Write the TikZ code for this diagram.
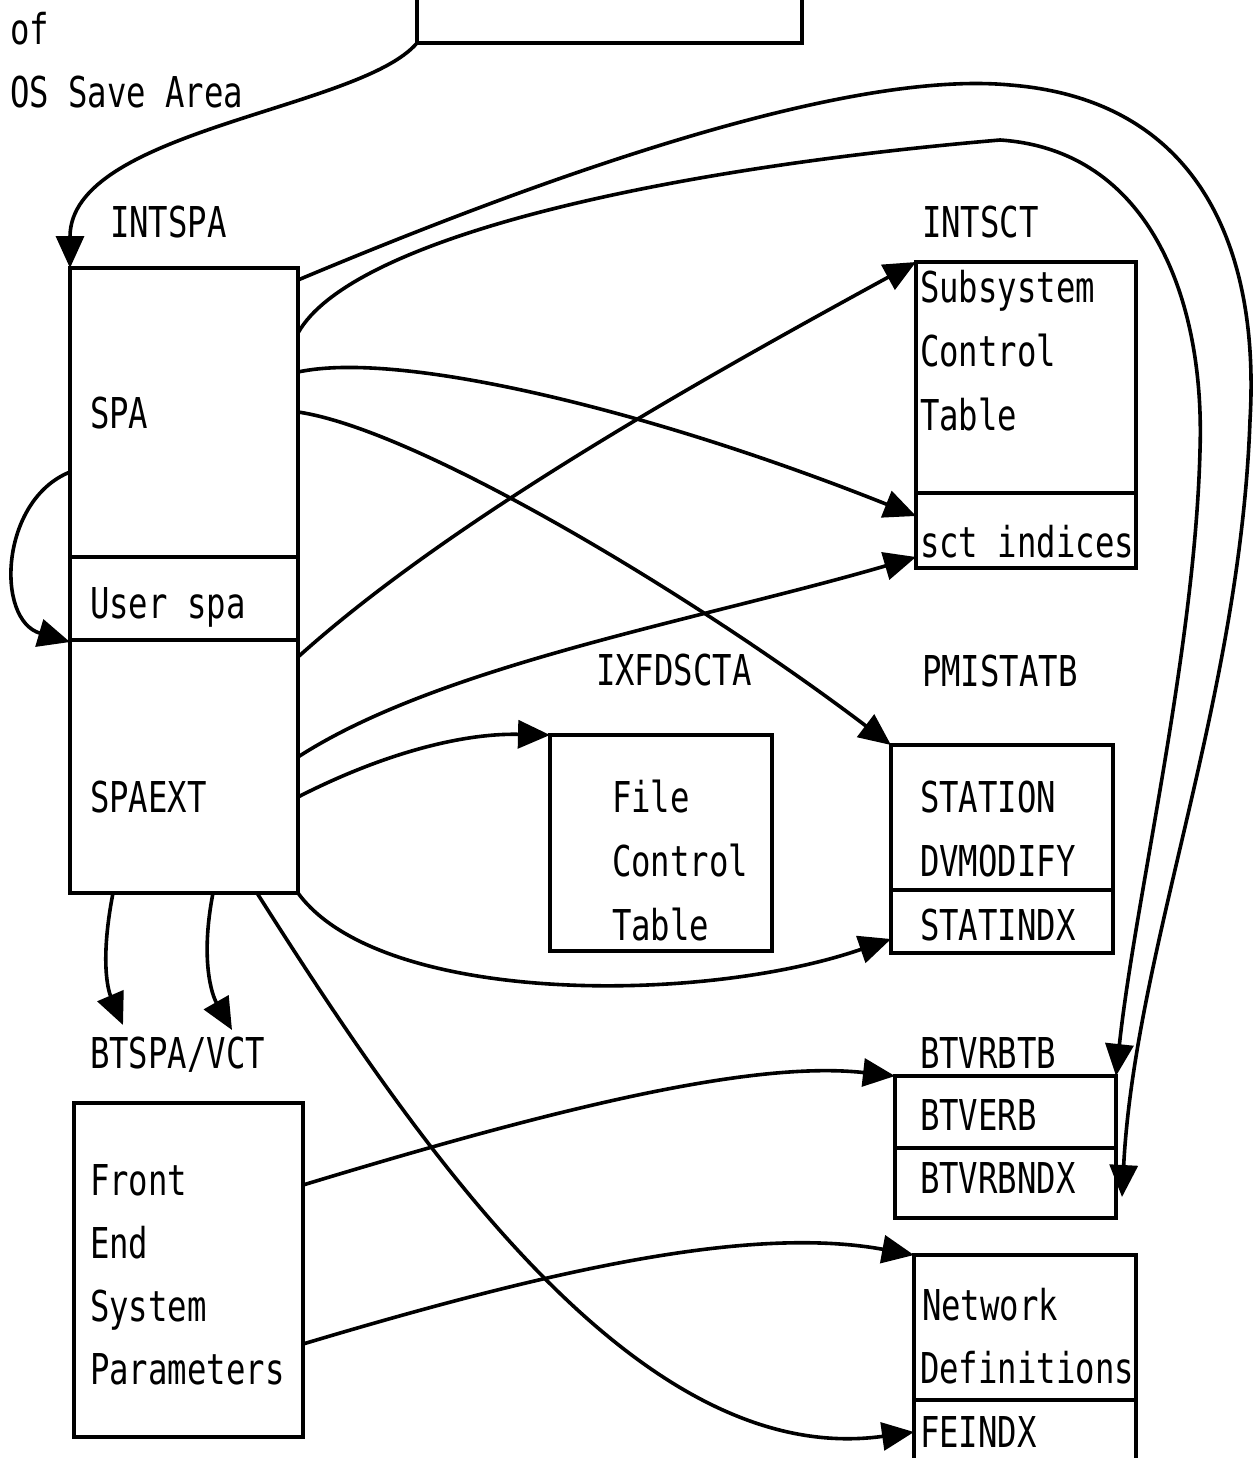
\documentclass[tikz,border=0pt]{standalone}
\usepackage{fontspec}
\newfontfamily\plotfont[FakeStretch=0.76]{DejaVu Sans Mono}
\usetikzlibrary{arrows.meta}
\begin{document}
\begin{tikzpicture}[x=1pt,y=-1pt,
  lbl/.style={anchor=base west, inner sep=0pt, outer sep=0pt,
              font=\plotfont\fontsize{42.5}{50}\selectfont},
  box/.style={draw, line width=4pt, inner sep=0pt, outer sep=0pt, anchor=north west},
  sep/.style={line width=3.6pt},
  link/.style={line width=3.6pt, line join=round,
               -{Triangle[length=32pt,width=28pt]}}
]
\useasboundingbox (0,0) rectangle (1254,1458);
\clip (0,0) rectangle (1254,1458);

% ---------- boxes ----------
\node[box, minimum width=385pt, minimum height=83pt] (osbox) at (417,-40) {};
\node[box, minimum width=228pt, minimum height=625pt] (spa) at (70,268) {};
\draw[sep] (spa.west |- 0,557) -- (spa.east |- 0,557);
\draw[sep] (spa.west |- 0,640) -- (spa.east |- 0,640);

\node[box, minimum width=220pt, minimum height=306pt] (sct) at (916,262) {};
\draw[sep] (sct.west |- 0,493) -- (sct.east |- 0,493);

\node[box, minimum width=222pt, minimum height=216pt] (fct) at (550,735) {};

\node[box, minimum width=222pt, minimum height=208pt] (stat) at (891,745) {};
\draw[sep] (stat.west |- 0,890) -- (stat.east |- 0,890);

\node[box, minimum width=229pt, minimum height=334pt] (fesp) at (74,1103) {};

\node[box, minimum width=221pt, minimum height=142pt] (btv) at (895,1076) {};
\draw[sep] (btv.west |- 0,1148) -- (btv.east |- 0,1148);

\node[box, minimum width=222pt, minimum height=230pt] (net) at (914,1255) {};
\draw[sep] (net.west |- 0,1400) -- (net.east |- 0,1400);

% ---------- labels ----------
\node[lbl] (tof)   at (10,45)  {of};
\node[lbl] (tosa)  at (10,108) {OS Save Area};
\node[lbl] (tintspa) at (110,237) {INTSPA};
\node[lbl] (tintsct) at (922,237) {INTSCT};
\node[lbl] (tspa)  at (90,428) {SPA};
\node[lbl] (tuser) at (90,618) {User spa};
\node[lbl] (tspaext) at (90,812) {SPAEXT};
\node[lbl] (tsub)  at (920,302) {Subsystem};
\node[lbl] (tcon)  at (920,366) {Control};
\node[lbl] (ttab)  at (920,430) {Table};
\node[lbl] (tsct)  at (920,557) {sct indices};
\node[lbl] (tixf)  at (596,685) {IXFDSCTA};
\node[lbl] (tpmi)  at (922,686) {PMISTATB};
\node[lbl] (tfile) at (612,812) {File};
\node[lbl] (tfcon) at (612,876) {Control};
\node[lbl] (tftab) at (612,940) {Table};
\node[lbl] (tsta)  at (920,812) {STATION};
\node[lbl] (tdvm)  at (920,876) {DVMODIFY};
\node[lbl] (tsix)  at (920,940) {STATINDX};
\node[lbl] (tbts)  at (90,1068) {BTSPA/VCT};
\node[lbl] (tfr)   at (90,1195) {Front};
\node[lbl] (tend)  at (90,1258) {End};
\node[lbl] (tsys)  at (90,1321) {System};
\node[lbl] (tpar)  at (90,1384) {Parameters};
\node[lbl] (tbtb)  at (920,1068) {BTVRBTB};
\node[lbl] (tbve)  at (920,1130) {BTVERB};
\node[lbl] (tbvn)  at (920,1193) {BTVRBNDX};
\node[lbl] (tnet)  at (922,1320) {Network};
\node[lbl] (tdef)  at (920,1383) {Definitions};
\node[lbl] (tfei)  at (920,1447) {FEINDX};

% ---------- connectors ----------
% OS save area to SPA
\draw[link] (osbox.south west) .. controls (360,110) and (70,130) .. (spa.north west);

% SPA around the top to BTVRBNDX (outer loop)
\coordinate (bvnx) at (1122,1197);
\draw[link] (spa.east |- 0,280) .. controls (560,170) and (850,70) .. (1010,85)
   .. controls (1200,100) and (1260,250) .. (1250,420)
   .. controls (1240,700) and (1135,950) .. (bvnx);

% SPA around the top to BTVERB (inner loop)
\draw[link] (spa.east |- 0,333) .. controls (350,240) and (650,170) .. (1000,140)
   .. controls (1150,150) and (1205,300) .. (1200,450)
   .. controls (1195,650) and (1135,900) .. (btv.north east);

% SPA to sct indices
\draw[link] (spa.east |- 0,372) .. controls (400,350) and (650,410) .. (sct.west |- 0,516);

% SPA to PMISTATB
\draw[link] (spa.east |- 0,412) .. controls (420,430) and (700,600) .. (stat.north west);

% SPAEXT to INTSCT
\draw[link] (spa.east |- 0,657) .. controls (450,520) and (700,380) .. (sct.north west);

% SPAEXT to sct indices
\draw[link] (spa.east |- 0,757) .. controls (440,665) and (700,620) .. (sct.west |- 0,557);

% SPAEXT to file control table
\draw[link] (spa.east |- 0,797) .. controls (380,755) and (460,733) .. (fct.north west);

% SPAEXT to STATINDX
\draw[link] (spa.south east) .. controls (380,1005) and (700,1005) .. (stat.west |- 0,939);

% SPAEXT to FEINDX
\draw[link] (spa.south -| 257,0) .. controls (420,1150) and (640,1470) .. (net.west |- 0,1432);

% front end parameters to BTVRBTB and network definitions
\draw[link] (fesp.east |- 0,1185) .. controls (550,1110) and (750,1060) .. (btv.north west);
\draw[link] (fesp.east |- 0,1344) .. controls (550,1270) and (750,1225) .. (net.north west);

% SPA to SPAEXT loop on the left
\draw[link] (spa.west |- 0,472) .. controls (0,500) and (-5,620) .. (spa.west |- 0,642);

% down to BTSPA/VCT
\coordinate (bts1) at (123,1025);
\coordinate (bts2) at (232,1030);
\draw[link] (spa.south -| 113,0) .. controls (100,960) and (108,990) .. (bts1);
\draw[link] (spa.south -| 213,0) .. controls (200,960) and (212,995) .. (bts2);
\end{tikzpicture}
\end{document}
